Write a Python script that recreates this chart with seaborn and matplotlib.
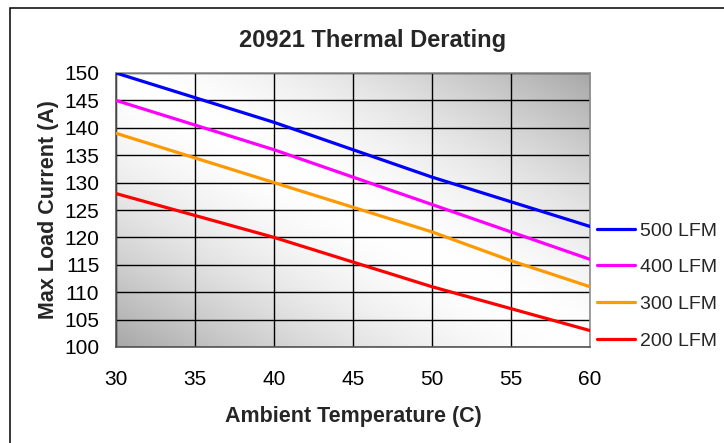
import numpy as np
import pandas as pd
import matplotlib
matplotlib.use("Agg")
import matplotlib.pyplot as plt
from matplotlib.patches import Rectangle
import seaborn as sns

# ---- data ----
temps = [30, 35, 40, 45, 50, 55, 60]
lfm500 = [150, 145.5, 141, 136, 131, 126.5, 122]
lfm400 = [145, 140.5, 136, 131, 126, 121, 116]
lfm300 = [139, 134.5, 130, 125.5, 121, 115.75, 111]
lfm200 = [128, 124, 120, 115.5, 111, 107, 103]
series_names = ["500 LFM", "400 LFM", "300 LFM", "200 LFM"]
series_values = [lfm500, lfm400, lfm300, lfm200]
series_colors = ["#0000FF", "#FF00FF", "#FF9900", "#FF0000"]
x_ticks = [30, 35, 40, 45, 50, 55, 60]
y_ticks = [100, 105, 110, 115, 120, 125, 130, 135, 140, 145, 150]
title = "20921 Thermal Derating"
xlabel = "Ambient Temperature (C)"
ylabel = "Max Load Current (A)"

rows = []
for name, vals in zip(series_names, series_values):
    for t, v in zip(temps, vals):
        rows.append({"Temp": t, "Current": v, "Series": name})
df = pd.DataFrame(rows)

sns.set_style("white")
plt.rcParams["font.family"] = ["Liberation Sans", "DejaVu Sans"]

W, H = 724, 443
fig = plt.figure(figsize=(W / 100, H / 100), dpi=100)
fig.patch.set_facecolor("white")
ax = fig.add_axes([116 / W, 1 - 347 / H, (590 - 116) / W, (347 - 73) / H])

# gradient background (diagonal band, white along TL->BR)
n = 300
u = np.linspace(0, 1, n)[None, :]
v = np.linspace(0, 1, n)[:, None]
t = np.abs(u - v) ** 1.6
light = np.array([1.0, 1.0, 1.0])
dark = np.array([0.655, 0.655, 0.655])
img = light[None, None, :] * (1 - t[..., None]) + dark[None, None, :] * t[..., None]
ax.imshow(img, extent=(30, 60, 100, 150), origin="upper", aspect="auto",
          zorder=-1, interpolation="bilinear")

palette = dict(zip(series_names, series_colors))
sns.lineplot(data=df, x="Temp", y="Current", hue="Series", hue_order=series_names,
             palette=palette, linewidth=2.3, ax=ax, legend=False, zorder=3)

ax.set_xlim(30, 60)
ax.set_ylim(100, 150)
ax.set_xticks(x_ticks)
ax.set_yticks(y_ticks)
ax.set_axisbelow("line")
ax.grid(True, color="black", linewidth=1.0)
ax.tick_params(axis="both", direction="out", length=6, width=1, color="#333333",
               labelsize=15, colors="black")
ax.tick_params(axis="y", pad=6)
ax.tick_params(axis="x", pad=10.5)
for side in ["top", "right"]:
    ax.spines[side].set_color("#909090")
    ax.spines[side].set_linewidth(1.2)
for side in ["left", "bottom"]:
    ax.spines[side].set_color("#555555")
    ax.spines[side].set_linewidth(1.2)
ax.set_xlabel(xlabel, fontsize=15.5, fontweight="bold", labelpad=12)
ax.set_ylabel(ylabel, fontsize=15.5, fontweight="bold", labelpad=4)

fig.text(373 / W, 1 - 41 / H, title, fontsize=17, fontweight="bold",
         ha="center", va="center")

handles = [plt.Line2D([], [], color=c, linewidth=2.3) for c in series_colors]
ax.legend(handles, series_names, loc="upper left",
          bbox_to_anchor=(597 / W, 1 - 222 / H), bbox_transform=fig.transFigure,
          frameon=False, fontsize=14, handlelength=1.95, handletextpad=0.28,
          labelspacing=0.98, borderaxespad=0, borderpad=0)

fig.add_artist(Rectangle((10 / W, -0.5), 2, 1 - 8 / H + 0.5, fill=False,
                         edgecolor="black", linewidth=1.1,
                         transform=fig.transFigure))

fig.savefig("out.png", dpi=100)
